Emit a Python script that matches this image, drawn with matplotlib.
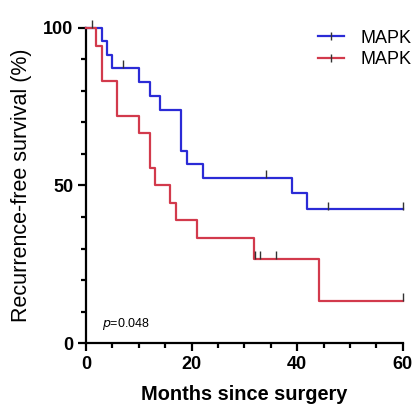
import matplotlib
matplotlib.use("Agg")
import matplotlib.pyplot as plt
from matplotlib.ticker import MultipleLocator
from matplotlib.lines import Line2D

plt.rcParams['font.family'] = ['Liberation Sans', 'DejaVu Sans']

# step curves: (time of drop, survival after drop)
blue_t = [0, 3.1, 4.0, 5.0, 10.1, 12.1, 14.0, 17.9, 19.1, 22.1, 39.0, 41.9, 60]
blue_s = [100, 95.7, 91.5, 87.2, 82.8, 78.4, 74.0, 61.0, 56.9, 52.3, 47.5, 42.4, 42.4]
blue_cens_t = [1.1, 7.1, 34.0, 45.9, 60]
blue_cens_s = [100, 87.2, 52.3, 42.4, 42.4]

red_t = [0, 1.9, 3.0, 5.9, 10.1, 12.1, 13.0, 15.9, 17.0, 21.1, 31.9, 44.1, 60]
red_s = [100, 94.4, 83.3, 72.2, 66.7, 55.6, 50.0, 44.4, 38.9, 33.3, 26.7, 13.3, 13.3]
red_cens_t = [32.1, 33.0, 36.0, 60]
red_cens_s = [26.7, 26.7, 26.7, 13.3]

labels = ["MAPK", "MAPK"]
blue = "#2b2bd6"
red = "#d23a4c"

fig = plt.figure(figsize=(4.12, 4.05), dpi=100)
ax = fig.add_axes([0.2087, 0.153, 0.769, 0.778])

ax.step(blue_t, blue_s, where='post', color=blue, lw=1.6, clip_on=False, zorder=3)
ax.step(red_t, red_s, where='post', color=red, lw=1.6, clip_on=False, zorder=3)
ax.plot(blue_cens_t, [s + 1.2 for s in blue_cens_s], ls='none', marker='|', ms=6,
        mew=1.0, color='#333333', clip_on=False, zorder=4)
ax.plot(red_cens_t, [s + 1.2 for s in red_cens_s], ls='none', marker='|', ms=6,
        mew=1.0, color='#333333', clip_on=False, zorder=4)

ax.set_xlim(0, 60)
ax.set_ylim(0, 100)
ax.xaxis.set_major_locator(MultipleLocator(20))
ax.xaxis.set_minor_locator(MultipleLocator(5))
ax.yaxis.set_major_locator(MultipleLocator(50))
ax.yaxis.set_minor_locator(MultipleLocator(10))
for s in ['top', 'right']:
    ax.spines[s].set_visible(False)
for s in ['left', 'bottom']:
    ax.spines[s].set_linewidth(1.6)
ax.tick_params(which='major', length=6, width=1.6, labelsize=13, pad=3)
ax.tick_params(which='minor', length=3.5, width=1.6)
for lab in ax.get_xticklabels() + ax.get_yticklabels():
    lab.set_fontweight('bold')

ax.set_xlabel("Months since surgery", fontsize=14.4, fontweight='bold', labelpad=9)
ax.set_ylabel("Recurrence-free survival (%)", fontsize=15.5, labelpad=8)

ax.text(3, 5, r"$\it{p}$=0.048", fontsize=9)

handles = [Line2D([0], [0], color=blue, lw=1.6, marker='|', ms=6, mec='#333333'),
           Line2D([0], [0], color=red, lw=1.6, marker='|', ms=6, mec='#333333')]
ax.legend(handles, labels, loc='upper left', bbox_to_anchor=(232 / 317, 0.995), frameon=False,
          fontsize=13, handlelength=1.45, handletextpad=0.9, labelspacing=0.25,
          borderpad=0, borderaxespad=0)

fig.savefig("out.png", dpi=100)
